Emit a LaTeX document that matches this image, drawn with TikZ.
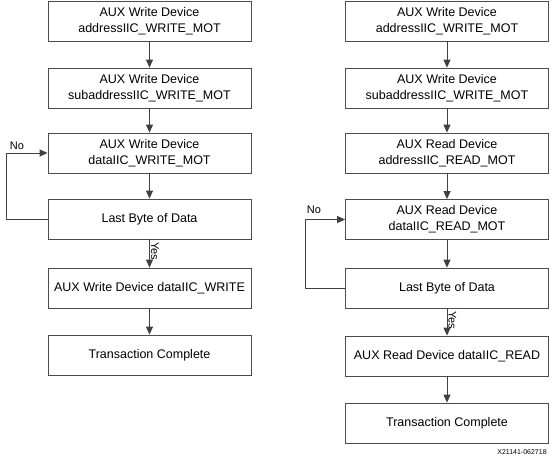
\documentclass[tikz,border=0pt]{standalone}
\usepackage{fontspec}
\setmainfont{Liberation Sans}
\usetikzlibrary{arrows.meta}

\begin{document}
\begin{tikzpicture}[x=1pt,y=-1pt,
  box/.style={draw=black!70,line width=0.8pt,minimum width=203pt,minimum height=40pt,
    inner sep=2pt,align=center,font=\fontsize{12.5}{16}\selectfont},
  flow/.style={draw=black!75,line width=0.9pt,-{Triangle[length=8pt,width=7pt]}},
  tag/.style={font=\fontsize{11}{13}\selectfont,inner sep=1pt}]
  %\draw[help lines] (0,0) grid (555,461);
  \useasboundingbox (0,0) rectangle (555,461);

  % left: write
  \draw (149.5, 21) node[box](Wa)  {AUX Write Device\\addressIIC\_WRITE\_MOT};
  \draw (149.5, 88) node[box](Wb)  {AUX Write Device\\subaddressIIC\_WRITE\_MOT};
  \draw (149.5,153) node[box](Wc)  {AUX Write Device\\dataIIC\_WRITE\_MOT};
  \draw (149.5,219) node[box](Wl)  {Last Byte of Data};
  \draw (149.5,288) node[box](Wd)  {AUX Write Device dataIIC\_WRITE};
  \draw (149.5,355) node[box](Wt)  {Transaction Complete};

  % right: read
  \draw (447, 21) node[box](Ra)  {AUX Write Device\\addressIIC\_WRITE\_MOT};
  \draw (447, 88) node[box](Rb)  {AUX Write Device\\subaddressIIC\_WRITE\_MOT};
  \draw (447,153) node[box](Rc)  {AUX Read Device\\addressIIC\_READ\_MOT};
  \draw (447,219.5) node[box](Rd)  {AUX Read Device\\dataIIC\_READ\_MOT};
  \draw (447,288) node[box](Rl)  {Last Byte of Data};
  \draw (447,356) node[box](Re)  {AUX Read Device dataIIC\_READ};
  \draw (447,423) node[box](Rt)  {Transaction Complete};

  \path[flow] (Wa) -- (Wb);
  \path[flow] (Wb) -- (Wc);
  \path[flow] (Wc) -- (Wl);
  \path[flow] (Wl) -- node[tag,right,rotate=-90,anchor=south,xshift=-2pt](Wyes) {Yes} (Wd);
  \path[flow] (Wd) -- (Wt);
  \path[flow] (Wl.west) -- ++(-41,0) |- (Wc.west);
  \draw (17,146) node[tag](Wno) {No};

  \path[flow] (Ra) -- (Rb);
  \path[flow] (Rb) -- (Rc);
  \path[flow] (Rc) -- (Rd);
  \path[flow] (Rd) -- (Rl);
  \path[flow] (Rl) -- node[tag,right,rotate=-90,anchor=south,xshift=-2pt](Ryes) {Yes} (Re);
  \path[flow] (Re) -- (Rt);
  \path[flow] (Rl.west) -- ++(-40,0) |- (Rd.west);
  \draw (314,210) node[tag](Rno) {No};

  \draw (522,452) node[font=\fontsize{7}{8}\selectfont,inner sep=0pt](fig) {X21141-062718};
\end{tikzpicture}
\end{document}
